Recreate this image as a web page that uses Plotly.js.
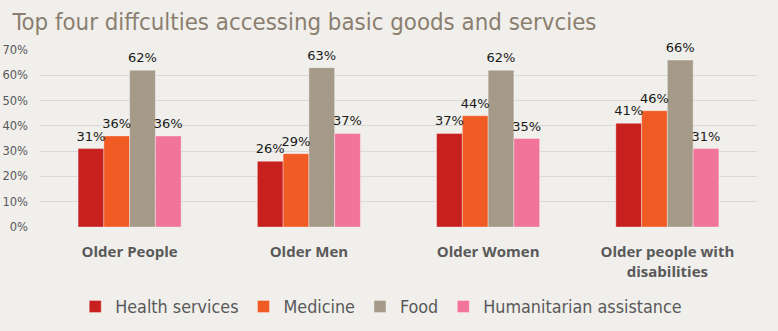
<!DOCTYPE html>
<html>
<head>
<meta charset="utf-8">
<script src="https://cdn.plot.ly/plotly-3.0.1.min.js"></script>
<style>
  html, body { margin: 0; padding: 0; background: #f0efeb; }
  #chart { width: 778px; height: 331px; }
</style>
</head>
<body>
<div id="chart"></div>
<script>
const categories = ["Older People", "Older Men", "Older Women", "Older people with<br>disabilities"];
const healthServices = [0.31, 0.26, 0.37, 0.41];
const medicine = [0.36, 0.29, 0.44, 0.46];
const food = [0.62, 0.63, 0.62, 0.66];
const humanitarian = [0.36, 0.37, 0.35, 0.31];
const seriesNames = ["Health services", "Medicine", "Food", "Humanitarian assistance"];
const seriesColors = ["#c8201f", "#f05a23", "#a59a88", "#f1749b"];
const seriesValues = [healthServices, medicine, food, humanitarian];

const barTraces = seriesValues.map((vals, i) => ({
  type: "bar",
  name: seriesNames[i],
  x: categories,
  y: vals,
  marker: { color: seriesColors[i], line: { color: "rgba(255,255,255,0.35)", width: 1 } },
  hoverinfo: "skip"
}));

const labelTraces = seriesValues.map((vals, i) => ({
  type: "scatter",
  mode: "markers+text",
  x: categories,
  y: vals,
  showlegend: false,
  marker: { size: 6, opacity: 0, color: seriesColors[i] },
  text: vals.map(v => Math.round(v * 100) + "%"),
  textposition: "top center",
  cliponaxis: false,
  textfont: { family: "DejaVu Sans, Verdana, sans-serif", size: 13, color: "#1a1a1a" },
  hoverinfo: "skip"
}));

const layout = {
  width: 778,
  height: 331,
  paper_bgcolor: "#f0efeb",
  plot_bgcolor: "#f0efeb",
  margin: { l: 40, r: 21, t: 50, b: 104, autoexpand: false },
  title: {
    text: "Top four diffculties accessing basic goods and servcies",
    font: { family: "DejaVu Sans Condensed, DejaVu Sans, sans-serif", size: 23.8, color: "#8b7e6f" },
    x: 0.016, xanchor: "left", y: 0.935, yanchor: "middle"
  },
  barmode: "group",
  bargap: 0.425,
  bargroupgap: 0,
  scattermode: "group",
  scattergap: 0.425,
  xaxis: {
    tickfont: { family: "Open Sans, sans-serif", size: 15, color: "#595959", weight: "bold" },
    showline: false,
    ticks: "",
    ticklabelstandoff: 14,
    fixedrange: true
  },
  yaxis: {
    range: [0, 0.7],
    dtick: 0.1,
    tickformat: ".0%",
    gridcolor: "#d9d9d9",
    gridwidth: 1,
    zeroline: false,
    showline: false,
    tickfont: { family: "DejaVu Sans, Verdana, sans-serif", size: 11.5, color: "#595959" },
    ticklen: 0,
    ticklabelstandoff: 11,
    fixedrange: true
  },
  legend: {
    orientation: "h",
    xref: "container", yref: "container",
    x: 0.49, xanchor: "center",
    y: 0.073, yanchor: "middle",
    itemwidth: 30,
    font: { family: "DejaVu Sans Condensed, DejaVu Sans, sans-serif", size: 17.8, color: "#595959" },
    bgcolor: "rgba(0,0,0,0)"
  },
  showlegend: true
};

Plotly.newPlot("chart", barTraces.concat(labelTraces), layout, { displayModeBar: false, staticPlot: true });
</script>
</body>
</html>
